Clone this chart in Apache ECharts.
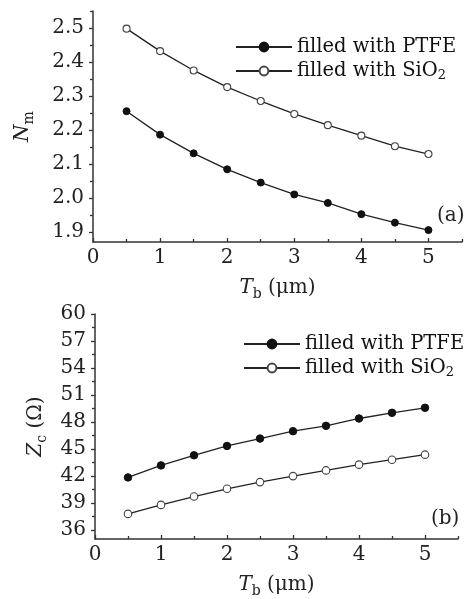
<!DOCTYPE html>
<html>
<head>
<meta charset="utf-8">
<script src="https://cdn.jsdelivr.net/npm/echarts@6/dist/echarts.min.js"></script>
<style>html,body{margin:0;padding:0;background:#fff}#c{width:470px;height:599px}</style>
</head>
<body>
<div id="c"></div>
<script>
// ---- data ----
const tb = [0.5, 1.0, 1.5, 2.0, 2.5, 3.0, 3.5, 4.0, 4.5, 5.0];
const nmPTFE = [2.255, 2.186, 2.131, 2.084, 2.045, 2.010, 1.985, 1.952, 1.927, 1.905];
const nmSiO2 = [2.498, 2.432, 2.375, 2.326, 2.285, 2.247, 2.214, 2.183, 2.152, 2.129];
const zcPTFE = [41.84, 43.18, 44.30, 45.34, 46.16, 46.98, 47.57, 48.39, 49.02, 49.58];
const zcSiO2 = [37.79, 38.79, 39.72, 40.58, 41.32, 41.99, 42.62, 43.26, 43.81, 44.37];
const xLabels = [0, 1, 2, 3, 4, 5];
const xMinor = [0.5, 1.5, 2.5, 3.5, 4.5, 5.5];
const nmLabels = [1.9, 2.0, 2.1, 2.2, 2.3, 2.4, 2.5];
const nmMinor = [1.95, 2.05, 2.15, 2.25, 2.35, 2.45, 2.55];
const zcLabels = [36, 39, 42, 45, 48, 51, 54, 57, 60];
const zcMinor = [37.5, 40.5, 43.5, 46.5, 49.5, 52.5, 55.5, 58.5];
const nameP = 'filled with PTFE';
const nameS = 'filled with SiO2';

const FONT = 'DejaVu Serif';
const AX = '#333';
const pair = (xs, ys) => xs.map((x, i) => [x, ys[i]]);

const nameRich = {
  i: { fontFamily: FONT, fontSize: 20, fontStyle: 'italic', color: '#222' },
  s: { fontFamily: FONT, fontSize: 14, color: '#222', padding: [12, 0, 0, 0] },
  n: { fontFamily: FONT, fontSize: 20, color: '#222' }
};
function mainX(grid, name) {
  return {
    type: 'value', gridIndex: grid, min: 0, max: 5.5, position: 'bottom',
    axisLine: { show: true, onZero: false, lineStyle: { color: AX, width: 1.5 } },
    axisTick: { show: true, inside: true, length: 4, customValues: xLabels, lineStyle: { color: AX, width: 1.3 } },
    axisLabel: { customValues: xLabels, color: '#222', fontFamily: FONT, fontSize: 20, margin: 6 },
    splitLine: { show: false },
    name: name, nameLocation: 'middle', nameGap: 33,
    nameTextStyle: { color: '#222', fontFamily: FONT, fontSize: 20, rich: nameRich }
  };
}
function minorX(grid) {
  return {
    type: 'value', gridIndex: grid, min: 0, max: 5.5, position: 'bottom',
    axisLine: { show: false, onZero: false },
    axisTick: { show: true, inside: true, length: 3, customValues: xMinor, lineStyle: { color: AX, width: 1.3 } },
    axisLabel: { show: false }, splitLine: { show: false }
  };
}
function mainY(grid, min, max, labels, fmt, name, gap) {
  return {
    type: 'value', gridIndex: grid, min: min, max: max, position: 'left',
    axisLine: { show: true, onZero: false, lineStyle: { color: AX, width: 1.5 } },
    axisTick: { show: true, length: 4, customValues: labels, lineStyle: { color: AX, width: 1.3 } },
    axisLabel: { customValues: labels, formatter: fmt, color: '#222', fontFamily: FONT, fontSize: 20, margin: 9 },
    splitLine: { show: false },
    name: name, nameLocation: 'middle', nameGap: gap,
    nameTextStyle: { color: '#222', fontFamily: FONT, fontSize: 20, rich: nameRich }
  };
}
function minorY(grid, min, max, vals) {
  return {
    type: 'value', gridIndex: grid, min: min, max: max, position: 'left',
    axisLine: { show: false, onZero: false },
    axisTick: { show: true, length: 3, customValues: vals, lineStyle: { color: AX, width: 1.3 } },
    axisLabel: { show: false }, splitLine: { show: false }
  };
}
function lineSeries(name, xi, yi, data, filled, size) {
  return {
    type: 'line', name: name, xAxisIndex: xi, yAxisIndex: yi,
    data: data, symbol: 'circle', symbolSize: size, showSymbol: true,
    lineStyle: { color: '#222', width: 1.3 },
    itemStyle: filled ? { color: '#111', borderColor: '#111', borderWidth: 1 }
                      : { color: '#fff', borderColor: '#444', borderWidth: 1.1 },
    color: filled ? '#111' : '#444',
    animation: false, z: 3
  };
}
const legendRich = { s: { fontFamily: FONT, fontSize: 13, color: '#111', padding: [10, 0, 0, 0] } };
function legend(left, top) {
  return {
    orient: 'vertical', left: left, top: top, itemWidth: 56, itemHeight: 11, itemGap: 4,
    data: [nameP, nameS],
    textStyle: { fontFamily: FONT, fontSize: 19.5, color: '#111', rich: legendRich },
    formatter: n => n === nameS ? 'filled with SiO{s|2}' : n,
    selectedMode: false
  };
}

const chart = echarts.init(document.getElementById('c'), null, { renderer: 'canvas' });
chart.setOption({
  backgroundColor: '#fff',
  animation: false,
  grid: [
    { left: 93, top: 11, right: 8, height: 231 },
    { left: 95, top: 314, right: 12, height: 225 }
  ],
  legend: [legend(230, 32), legend(238, 329)],
  xAxis: [mainX(0, '{i|T}{s|b}{n| (μm)}'), minorX(0), mainX(1, '{i|T}{s|b}{n| (μm)}'), minorX(1)],
  yAxis: [
    mainY(0, 1.87, 2.55, nmLabels, v => v.toFixed(1), '{i|N}{s|m}', 57), minorY(0, 1.87, 2.55, nmMinor),
    mainY(1, 35, 60, zcLabels, v => String(v), '{i|Z}{s|c}{n| (Ω)}', 46), minorY(1, 35, 60, zcMinor)
  ],
  series: [
    lineSeries(nameP, 0, 0, pair(tb, nmPTFE), true, 7),
    lineSeries(nameS, 0, 0, pair(tb, nmSiO2), false, 7),
    lineSeries(nameP, 2, 2, pair(tb, zcPTFE), true, 7.5),
    lineSeries(nameS, 2, 2, pair(tb, zcSiO2), false, 7.5)
  ],
  graphic: [
    { type: 'text', left: 437, top: 206, style: { text: '(a)', font: '20px "DejaVu Serif"', fill: '#222' } },
    { type: 'text', left: 431, top: 509, style: { text: '(b)', font: '20px "DejaVu Serif"', fill: '#222' } }
  ]
});
</script>
</body>
</html>
